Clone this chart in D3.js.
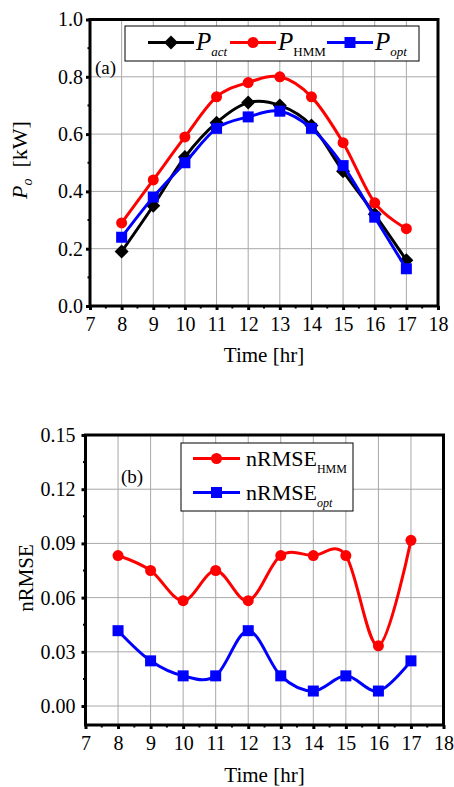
<!DOCTYPE html>
<html>
<head>
<meta charset="utf-8">
<script src="https://cdn.jsdelivr.net/npm/d3@7"></script>
<style>
  body { margin: 0; background: #fff; }
  svg { display: block; }
  svg text { font-family: "Liberation Serif", "Times New Roman", serif; fill: #000; }
</style>
</head>
<body>
<svg id="chart" width="454" height="787"></svg>
<script>
// ---------- data ----------
const hours = [8, 9, 10, 11, 12, 13, 14, 15, 16, 17];

// panel (a) output power [kW]
const pAct = [0.19, 0.35, 0.52, 0.64, 0.71, 0.70, 0.63, 0.47, 0.32, 0.16];
const pHmm = [0.29, 0.44, 0.59, 0.73, 0.78, 0.80, 0.73, 0.57, 0.36, 0.27];
const pOpt = [0.24, 0.38, 0.50, 0.62, 0.66, 0.68, 0.62, 0.49, 0.31, 0.13];

// panel (b) nRMSE
const nrmseHmm = [0.0833, 0.075, 0.0583, 0.075, 0.0583, 0.0833, 0.0833, 0.0833, 0.0333, 0.0917];
const nrmseOpt = [0.0417, 0.025, 0.0167, 0.0167, 0.0417, 0.0167, 0.0083, 0.0167, 0.0083, 0.025];

const xTicks = [7, 8, 9, 10, 11, 12, 13, 14, 15, 16, 17, 18];
const yTicksA = [0.0, 0.2, 0.4, 0.6, 0.8, 1.0];
const yTicksB = [0.00, 0.03, 0.06, 0.09, 0.12, 0.15];

const svg = d3.select("#chart");

// marker drawing helper
function drawMarker(g, type, x, y, color) {
    if (type === "circle") {
        g.append("circle").attr("cx", x).attr("cy", y).attr("r", 5.5).attr("fill", color);
    } else if (type === "square") {
        g.append("rect").attr("x", x - 5.5).attr("y", y - 5.5)
            .attr("width", 11).attr("height", 11).attr("fill", color);
    } else {
        // diamond
        g.append("path")
            .attr("d", `M${x},${y - 7}L${x + 7},${y}L${x},${y + 7}L${x - 7},${y}Z`)
            .attr("fill", color);
    }
}

// one panel: frame, grid, axes, series
function drawPanel(opts) {
    const x = d3.scaleLinear().domain([7, 18]).range([opts.left, opts.right]);
    const y = d3.scaleLinear().domain(opts.yDomain).range([opts.bottom, opts.top]);
    const g = svg.append("g");

    // grid
    g.selectAll(".vgrid")
        .data(xTicks.slice(1, -1))
        .join("line")
        .attr("x1", d => x(d)).attr("x2", d => x(d))
        .attr("y1", opts.top).attr("y2", opts.bottom)
        .attr("stroke", "#a8a8a8").attr("stroke-width", 1);
    g.selectAll(".hgrid")
        .data(opts.yTicks)
        .join("line")
        .attr("x1", opts.left).attr("x2", opts.right)
        .attr("y1", d => y(d)).attr("y2", d => y(d))
        .attr("stroke", "#a8a8a8").attr("stroke-width", 1);

    // axes (ticks outside)
    const xAxis = d3.axisBottom(x).tickValues(xTicks).tickSize(4).tickFormat(d3.format("d"));
    const gx = g.append("g").attr("transform", `translate(0,${opts.bottom})`).call(xAxis);
    gx.select(".domain").remove();
    gx.selectAll(".tick line").attr("stroke-width", 3);
    gx.selectAll(".tick text")
        .style("font-size", "20px")
        .attr("dy", null).attr("y", opts.xLabelY - opts.bottom);

    const yAxis = d3.axisLeft(y).tickValues(opts.yTicks).tickSize(4).tickFormat(d3.format(opts.yFormat));
    const gy = g.append("g").attr("transform", `translate(${opts.left},0)`).call(yAxis);
    gy.select(".domain").remove();
    gy.selectAll(".tick line").attr("stroke-width", 3);
    gy.selectAll(".tick text")
        .style("font-size", "20px")
        .attr("x", -opts.yLabelGap);

    // minor ticks
    const xMinor = d3.range(7.5, 18, 1);
    g.selectAll(".xminor").data(xMinor).join("line")
        .attr("x1", d => x(d)).attr("x2", d => x(d))
        .attr("y1", opts.bottom).attr("y2", opts.bottom + 2.5)
        .attr("stroke", "#000").attr("stroke-width", 2);
    g.selectAll(".yminor").data(opts.yMinor).join("line")
        .attr("x1", opts.left - 2.5).attr("x2", opts.left)
        .attr("y1", d => y(d)).attr("y2", d => y(d))
        .attr("stroke", "#000").attr("stroke-width", 2);

    // frame
    g.append("rect")
        .attr("x", opts.left).attr("y", opts.top)
        .attr("width", opts.right - opts.left).attr("height", opts.bottom - opts.top)
        .attr("fill", "none").attr("stroke", "#000").attr("stroke-width", 3);

    // series
    const line = d3.line()
        .x((d, i) => x(hours[i]))
        .y(d => y(d))
        .curve(d3.curveCardinal.tension(0));
    opts.series.forEach(s => {
        g.append("path").datum(s.values)
            .attr("d", line)
            .attr("fill", "none").attr("stroke", s.color).attr("stroke-width", 3);
        s.values.forEach((v, i) => drawMarker(g, s.marker, x(hours[i]), y(v), s.color));
    });

    // x axis title
    g.append("text")
        .attr("x", (opts.left + opts.right) / 2).attr("y", opts.titleY)
        .attr("text-anchor", "middle").style("font-size", "21px")
        .text("Time [hr]");
    return { x, y, g };
}

// ---------- panel (a) ----------
const a = drawPanel({
    left: 90, right: 438, top: 19.5, bottom: 306,
    yDomain: [0, 1], yTicks: yTicksA, yMinor: [0.1, 0.3, 0.5, 0.7, 0.9], yFormat: ".1f",
    yLabelGap: 7, xLabelY: 331, titleY: 362,
    series: [
        { values: pAct, color: "#000000", marker: "diamond" },
        { values: pHmm, color: "#ff0000", marker: "circle" },
        { values: pOpt, color: "#0000ff", marker: "square" }
    ]
});

a.g.append("text").attr("x", 95).attr("y", 74).style("font-size", "19px").text("(a)");

// y label
const yLabA = svg.append("text")
    .attr("transform", "translate(27,160) rotate(-90)")
    .attr("text-anchor", "middle").style("font-size", "22px");
yLabA.append("tspan").attr("font-style", "italic").text("P");
yLabA.append("tspan").attr("font-style", "italic").style("font-size", "14px").attr("dy", 5).text("o");
yLabA.append("tspan").attr("dy", -5).text("\u00a0\u00a0[kW]");

// legend (a)
const legA = svg.append("g");
legA.append("rect").attr("x", 125).attr("y", 26).attr("width", 294).attr("height", 35)
    .attr("fill", "#fff").attr("stroke", "#000").attr("stroke-width", 1);
const legItemsA = [
    { x: 148, color: "#000000", marker: "diamond", sub: "act", subItalic: true },
    { x: 230, color: "#ff0000", marker: "circle", sub: "HMM", subItalic: false },
    { x: 327, color: "#0000ff", marker: "square", sub: "opt", subItalic: true }
];
legItemsA.forEach(d => {
    legA.append("line").attr("x1", d.x).attr("x2", d.x + 46).attr("y1", 42.5).attr("y2", 42.5)
        .attr("stroke", d.color).attr("stroke-width", 3);
    drawMarker(legA, d.marker, d.x + 23, 42.5, d.color);
    const t = legA.append("text").attr("x", d.x + 48).attr("y", 50).style("font-size", "25px");
    t.append("tspan").attr("font-style", "italic").text("P");
    t.append("tspan").style("font-size", "13px").attr("dy", 6)
        .attr("font-style", d.subItalic ? "italic" : "normal").text(d.sub);
});

// ---------- panel (b) ----------
const b = drawPanel({
    left: 85.5, right: 443.5, top: 435, bottom: 725,
    yDomain: [-0.0105, 0.15], yTicks: yTicksB, yMinor: [0.015, 0.045, 0.075, 0.105, 0.135], yFormat: ".2f",
    yLabelGap: 10, xLabelY: 750, titleY: 782,
    series: [
        { values: nrmseHmm, color: "#ff0000", marker: "circle" },
        { values: nrmseOpt, color: "#0000ff", marker: "square" }
    ]
});

b.g.append("text").attr("x", 121).attr("y", 483).style("font-size", "19px").text("(b)");

svg.append("text")
    .attr("transform", "translate(33,578) rotate(-90)")
    .attr("text-anchor", "middle").style("font-size", "21px")
    .text("nRMSE");

// legend (b)
const legB = svg.append("g");
legB.append("rect").attr("x", 181).attr("y", 443).attr("width", 172).attr("height", 68)
    .attr("fill", "#fff").attr("stroke", "#000").attr("stroke-width", 1);
const legItemsB = [
    { y: 458.5, color: "#ff0000", marker: "circle", sub: "HMM", subItalic: false },
    { y: 492.5, color: "#0000ff", marker: "square", sub: "opt", subItalic: true }
];
legItemsB.forEach(d => {
    legB.append("line").attr("x1", 193).attr("x2", 240).attr("y1", d.y).attr("y2", d.y)
        .attr("stroke", d.color).attr("stroke-width", 3);
    drawMarker(legB, d.marker, 216.5, d.y, d.color);
    const t = legB.append("text").attr("x", 246).attr("y", d.y + 7).style("font-size", "22px");
    t.append("tspan").text("nRMSE");
    t.append("tspan").style("font-size", "12px").attr("dy", 7)
        .attr("font-style", d.subItalic ? "italic" : "normal").text(d.sub);
});
</script>
</body>
</html>
